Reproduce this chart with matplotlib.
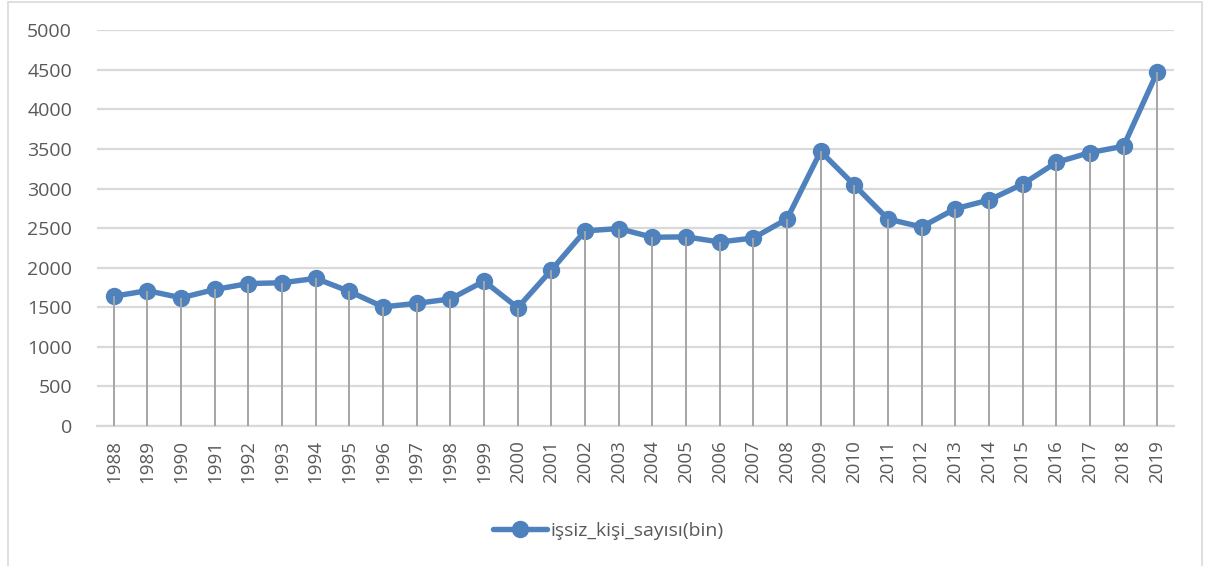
import matplotlib
matplotlib.use("Agg")
import matplotlib.pyplot as plt
from matplotlib.patches import Rectangle

years = list(range(1988, 2020))
issiz = [1640, 1710, 1620, 1725, 1800, 1810, 1865, 1700, 1505, 1550, 1605, 1830,
         1495, 1970, 2465, 2495, 2385, 2390, 2325, 2375, 2615, 3470, 3045, 2615,
         2515, 2745, 2855, 3055, 3330, 3455, 3535, 4470]
yticks = list(range(0, 5001, 500))

plt.rcParams['font.family'] = ['Open Sans', 'DejaVu Sans']
text_color = '#595959'
line_color = '#4F81BD'

fig = plt.figure(figsize=(12.07, 5.66), dpi=100)
ax = fig.add_axes([97 / 1207, 140 / 566, 1077 / 1207, 395.7 / 566])

x = list(range(len(years)))
ax.plot(x, issiz, color=line_color, linewidth=3.9, marker='o', markersize=11.5,
        label='işsiz_kişi_sayısı(bin)', zorder=3, solid_capstyle='round')
ax.vlines(x, 0, issiz, color='#A5A5A5', linewidth=1.4, zorder=4)

ax.set_xlim(-0.5, len(years) - 0.5)
ax.set_ylim(0, 5000)
ax.set_yticks(yticks)
ax.set_yticklabels([str(v) for v in yticks], fontsize=14, color=text_color)
ax.set_xticks(x)
ax.set_xticklabels([str(y) for y in years], rotation=90, fontsize=13.5, color=text_color)
ax.tick_params(axis='both', length=0)
ax.tick_params(axis='y', pad=18)
ax.tick_params(axis='x', pad=10)
ax.grid(axis='y', color='#D9D9D9', linewidth=1.6, zorder=0)
ax.set_axisbelow(True)
for side in ['left', 'right', 'top']:
    ax.spines[side].set_visible(False)
ax.spines['bottom'].set_color('#D9D9D9')
ax.spines['bottom'].set_linewidth(1.6)

fig.legend(loc='center', bbox_to_anchor=(608 / 1207, 1 - 531 / 566), frameon=False,
           fontsize=14, labelcolor=text_color, handlelength=2.8, handletextpad=0.15)

fig.patches.append(Rectangle((8 / 1207, -0.01), 1194 / 1207, 1.0 - 1.5 / 566 + 0.01,
                             transform=fig.transFigure, fill=False,
                             edgecolor='#D9D9D9', linewidth=1.2, zorder=0))

fig.savefig('out.png', dpi=100)
